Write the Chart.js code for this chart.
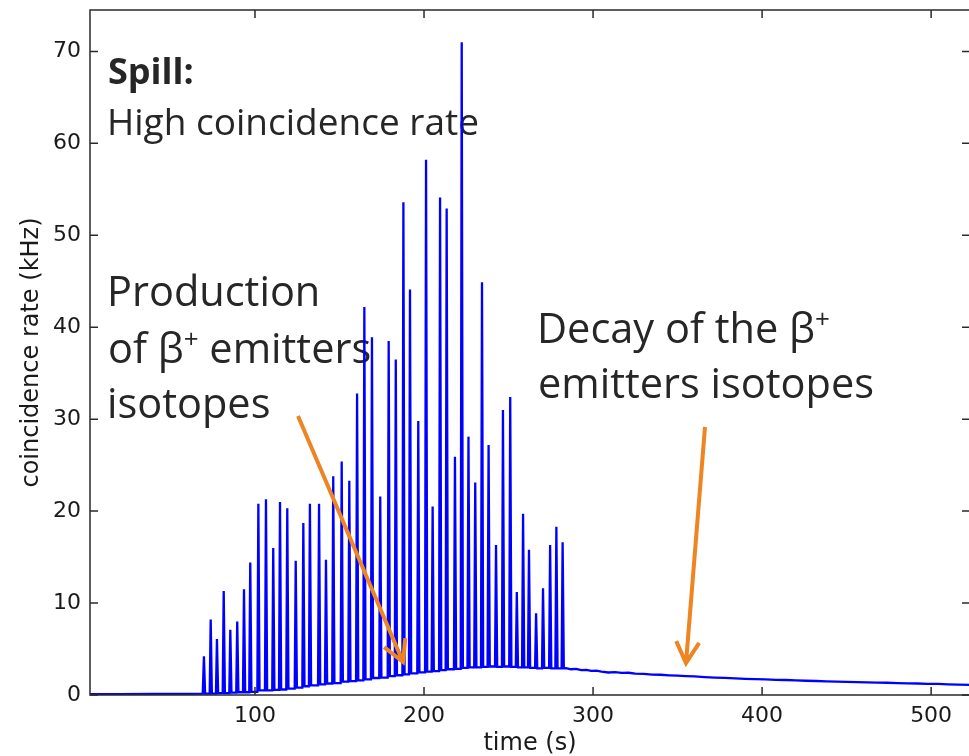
<!DOCTYPE html>
<html>
<head>
<meta charset="utf-8">
<title>coincidence rate</title>
<script src="https://cdn.jsdelivr.net/npm/chart.js@4.4.0/dist/chart.umd.min.js"></script>
<style>
  html, body { margin: 0; padding: 0; background: #fff; overflow: hidden; }
  #wrap { width: 980px; height: 756px; }
</style>
</head>
<body>
<div id="wrap"><canvas id="myChart" width="980" height="756"></canvas></div>
<script>
// quiet baseline before the first spill
const preTimes = [2.4, 20, 40, 60, 69.1];
const preRates = [0.1, 0.1, 0.12, 0.12, 0.15];

// spill spikes: time (s), peak (kHz), level right after the spike (kHz)
const spikeTimes = [69.8, 73.8, 77.5, 81.5, 85.4, 89.5, 93.5, 97.2, 102.0, 106.5,
  110.8, 114.8, 119.1, 124.1, 128.6, 132.5, 137.9, 142.0, 146.3, 151.3,
  155.8, 160.4, 164.7, 169.2, 174.1, 179.1, 183.3, 187.8, 191.7, 196.6,
  201.2, 205.1, 209.5, 213.4, 218.3, 222.3, 226.3, 230.3, 234.3, 238.2,
  242.6, 246.7, 251.0, 254.9, 258.6, 262.1, 266.3, 270.4, 274.6, 278.3, 282.0];
const spikePeaks = [4.2, 8.2, 6.1, 11.3, 7.1, 8.0, 11.5, 14.4, 20.8, 21.3,
  16.0, 21.0, 20.3, 14.6, 18.7, 20.8, 20.8, 14.7, 23.8, 25.4,
  23.3, 32.8, 42.2, 38.9, 21.6, 38.5, 36.5, 53.6, 44.1, 29.8,
  58.2, 20.5, 54.1, 52.9, 25.9, 71.0, 28.1, 23.1, 44.9, 27.2,
  16.3, 31.0, 32.4, 11.2, 19.7, 15.8, 8.9, 11.6, 16.3, 18.3, 16.6];
const troughs = [0.15, 0.15, 0.2, 0.2, 0.25, 0.3, 0.3, 0.35, 0.5, 0.5,
  0.55, 0.6, 0.7, 0.8, 0.95, 1.05, 1.15, 1.25, 1.3, 1.45,
  1.5, 1.6, 1.7, 1.85, 1.9, 2.05, 2.15, 2.25, 2.35, 2.45,
  2.55, 2.6, 2.7, 2.8, 2.85, 2.95, 3.0, 3.0, 3.05, 3.1,
  3.05, 3.1, 3.05, 3.0, 3.0, 2.95, 2.9, 2.95, 2.9, 2.9, 2.9];

// decay after the end of the spill
const decayTimes = [284, 287, 290, 293, 296, 299, 302, 305, 309, 313, 317, 321, 325, 330,
  335, 340, 345, 350, 355, 360, 366, 372, 378, 384, 390, 396, 402, 408, 414, 420,
  426, 432, 438, 444, 450, 456, 462, 468, 474, 480, 486, 492, 498, 504, 510, 516, 523];
const decayRates = [2.92, 2.8, 2.84, 2.7, 2.72, 2.62, 2.64, 2.55, 2.45, 2.48, 2.4, 2.42, 2.33, 2.3,
  2.22, 2.2, 2.14, 2.1, 2.05, 2.02, 1.95, 1.9, 1.86, 1.8, 1.76, 1.73, 1.7, 1.65, 1.63, 1.58,
  1.55, 1.52, 1.48, 1.46, 1.42, 1.4, 1.37, 1.35, 1.33, 1.3, 1.27, 1.25, 1.22, 1.2, 1.16, 1.13, 1.1];

const xTicks = [100, 200, 300, 400, 500];
const yTicks = [0, 10, 20, 30, 40, 50, 60, 70];

function buildPoints() {
  const pts = [];
  preTimes.forEach((t, i) => pts.push({ x: t, y: preRates[i] }));
  spikeTimes.forEach((t, i) => {
    const before = i === 0 ? preRates[preRates.length - 1] : troughs[i - 1];
    pts.push({ x: t - 0.6, y: before });
    pts.push({ x: t, y: spikePeaks[i] });
    pts.push({ x: t + 0.7, y: troughs[i] });
  });
  decayTimes.forEach((t, i) => pts.push({ x: t, y: decayRates[i] }));
  return pts;
}

const axisColor = '#2a2a2a';
const tickFont = { family: 'DejaVu Sans', size: 22 };
const titleFont = { family: 'DejaVu Sans', size: 24, lineHeight: 1 };

// matplotlib-like frame with inward ticks on all four sides
const framePlugin = {
  id: 'frame',
  afterDatasetsDraw(chart) {
    const { ctx, chartArea: a, scales } = chart;
    ctx.save();
    ctx.strokeStyle = axisColor;
    ctx.lineWidth = 1.5;
    ctx.strokeRect(a.left, a.top, a.right - a.left, a.bottom - a.top);
    ctx.beginPath();
    xTicks.forEach(v => {
      const px = scales.x.getPixelForValue(v);
      ctx.moveTo(px, a.bottom); ctx.lineTo(px, a.bottom - 8);
      ctx.moveTo(px, a.top); ctx.lineTo(px, a.top + 8);
    });
    yTicks.forEach(v => {
      const py = scales.y.getPixelForValue(v);
      ctx.moveTo(a.left, py); ctx.lineTo(a.left + 8, py);
      ctx.moveTo(a.right, py); ctx.lineTo(a.right - 8, py);
    });
    ctx.stroke();
    ctx.restore();
  }
};

function drawParts(ctx, parts, x, y, size) {
  // parts: [text, isSuperscript]
  let cx = x;
  parts.forEach(([txt, sup]) => {
    ctx.font = (sup ? Math.round(size * 0.62) : size) + 'px "Open Sans"';
    ctx.fillText(txt, cx, sup ? y - size * 0.36 : y);
    cx += ctx.measureText(txt).width;
  });
}

function arrow(ctx, x0, y0, x1, y1) {
  const ang = Math.atan2(y1 - y0, x1 - x0);
  const len = 24, spread = 0.5;
  ctx.beginPath();
  ctx.moveTo(x0, y0);
  ctx.lineTo(x1, y1);
  ctx.moveTo(x1 - len * Math.cos(ang - spread), y1 - len * Math.sin(ang - spread));
  ctx.lineTo(x1, y1);
  ctx.lineTo(x1 - len * Math.cos(ang + spread), y1 - len * Math.sin(ang + spread));
  ctx.stroke();
}

const notesPlugin = {
  id: 'notes',
  beforeDatasetsDraw(chart) {
    const ctx = chart.ctx;
    ctx.save();
    ctx.fillStyle = '#262626';
    ctx.textBaseline = 'alphabetic';
    ctx.textAlign = 'left';
    ctx.font = 'bold 36px "Open Sans"';
    ctx.fillText('Spill:', 108, 84);
    ctx.font = '37px "Open Sans"';
    ctx.fillText('High coincidence rate', 107, 135);
    drawParts(ctx, [['Production', false]], 107, 306, 41.5);
    drawParts(ctx, [['of β', false], ['+', true], [' emitters', false]], 108, 363, 41.5);
    drawParts(ctx, [['isotopes', false]], 107, 418, 41.5);
    drawParts(ctx, [['Decay of the β', false], ['+', true]], 537, 343, 41.5);
    drawParts(ctx, [['emitters isotopes', false]], 538, 398, 41.5);
    ctx.restore();
  },
  afterDraw(chart) {
    const ctx = chart.ctx;
    ctx.save();
    ctx.strokeStyle = '#ee8422';
    ctx.lineWidth = 4;
    ctx.lineJoin = 'miter';
    arrow(ctx, 298, 416, 403, 662);
    arrow(ctx, 705, 427, 686, 663);
    ctx.restore();
  }
};

const ctx = document.getElementById('myChart').getContext('2d');
window.myChart = new Chart(ctx, {
  type: 'line',
  data: {
    datasets: [{
      data: buildPoints(),
      borderColor: '#0000ff',
      borderWidth: 2.3,
      pointRadius: 0,
      tension: 0,
      fill: false
    }]
  },
  options: {
    responsive: false,
    animation: false,
    layout: { padding: { top: 10, right: 10, left: 0, bottom: 0 } },
    plugins: { legend: { display: false }, tooltip: { enabled: false } },
    scales: {
      x: {
        type: 'linear',
        min: 2.4,
        max: 523,
        grid: { display: false, drawTicks: false },
        border: { display: false },
        ticks: { font: tickFont, color: '#1a1a1a', padding: 8, autoSkip: false, maxRotation: 0 },
        title: { display: true, text: 'time (s)', font: titleFont, color: '#1a1a1a', padding: { top: 0, bottom: 0 } },
        afterBuildTicks: s => { s.ticks = xTicks.map(v => ({ value: v })); },
        afterFit: s => { s.height = 61; s.paddingLeft = 0; s.paddingRight = 0; }
      },
      y: {
        min: 0,
        max: 74.5,
        grid: { display: false, drawTicks: false },
        border: { display: false },
        ticks: { font: tickFont, color: '#1a1a1a', padding: 9, autoSkip: false },
        title: { display: true, text: 'coincidence rate (kHz)', font: titleFont, color: '#1a1a1a', padding: { top: 20, bottom: 0 } },
        afterBuildTicks: s => { s.ticks = yTicks.map(v => ({ value: v })); },
        afterFit: s => { s.width = 90; s.paddingTop = 0; s.paddingBottom = 0; }
      }
    }
  },
  plugins: [framePlugin, notesPlugin]
});
</script>
</body>
</html>
